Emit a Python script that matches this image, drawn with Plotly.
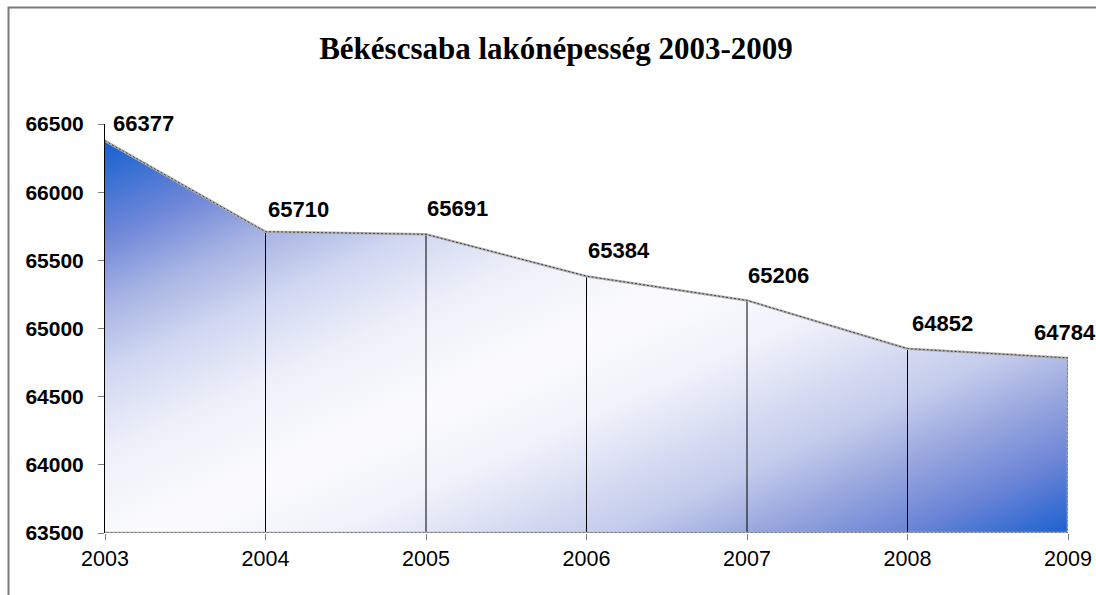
import base64
import plotly.graph_objects as go

# ---- data ----
years = [2003, 2004, 2005, 2006, 2007, 2008, 2009]
population = [66377, 65710, 65691, 65384, 65206, 64852, 64784]
y_ticks = [63500, 64000, 64500, 65000, 65500, 66000, 66500]
title_text = "Békéscsaba lakónépesség 2003-2009"

# ---- styling ----
W, H = 1096, 595
ML, MR, MT, MB = 105, 28, 124, 62
PW, PH = W - ML - MR, H - MT - MB
LABEL_SHIFT_X = [38, 33, 31, 32, 31, 35, -3]
LABEL_SHIFT_Y = [17, 22, 26, 26, 25, 25, 25]
GRAD_STOPS = [
    (0.00, "#1560d0"), (0.12, "#7088d8"), (0.20, "#a8b4e3"), (0.28, "#d0d7f1"),
    (0.38, "#eef0f9"), (0.50, "#fcfcfe"), (0.60, "#f0f2fa"), (0.70, "#d2d8f0"),
    (0.75, "#c4ccec"), (0.825, "#9aa8de"), (0.91, "#6a84d6"), (1.00, "#1a62d0"),
]
GRAD_DIR = (0.41, 0.912)

Y_MIN, Y_MAX = y_ticks[0], y_ticks[-1]
X_MIN, X_MAX = years[0], years[-1]

# gradient geometry (in plot-area pixels), over the bounding box of the filled area
top_frac = (Y_MAX - max(population)) / (Y_MAX - Y_MIN)
box_top, box_bot = top_frac * PH, PH
cx, cy = PW / 2, (box_top + box_bot) / 2
ux, uy = GRAD_DIR
half = abs(-cx * ux + (box_top - cy) * uy)
ax_, ay_ = cx - half * ux, cy - half * uy
bx_, by_ = cx + half * ux, cy + half * uy
stops = "".join(f'<stop offset="{o}" stop-color="{c}"/>' for o, c in GRAD_STOPS)
svg = (
    f'<svg xmlns="http://www.w3.org/2000/svg" width="{PW}" height="{PH}" '
    f'viewBox="0 0 {PW} {PH}" preserveAspectRatio="none"><defs>'
    f'<linearGradient id="g" gradientUnits="userSpaceOnUse" '
    f'x1="{ax_:.1f}" y1="{ay_:.1f}" x2="{bx_:.1f}" y2="{by_:.1f}">{stops}'
    '</linearGradient></defs>'
    f'<rect width="{PW}" height="{PH}" fill="url(#g)"/></svg>'
)
grad_src = "data:image/svg+xml;base64," + base64.b64encode(svg.encode()).decode()

fig = go.Figure()

# white mask above the curve (gradient image lies underneath the whole plot area)
fig.add_trace(go.Scatter(
    x=years + [X_MAX, X_MIN], y=population + [Y_MAX, Y_MAX],
    fill="toself", fillcolor="white", mode="lines",
    line=dict(width=0, color="white"), hoverinfo="skip", showlegend=False,
))

# drop lines
dx, dy = [], []
for yr, v in zip(years[1:-1], population[1:-1]):
    dx += [yr, yr, None]
    dy += [Y_MIN, v, None]
fig.add_trace(go.Scatter(
    x=dx, y=dy, mode="lines", line=dict(color="black", width=1),
    hoverinfo="skip", showlegend=False,
))

# area border (top curve, right edge, bottom edge)
bx = years + [X_MAX, X_MIN]
by = population + [Y_MIN, Y_MIN]
fig.add_trace(go.Scatter(
    x=bx, y=by, mode="lines", line=dict(color="#b0b0b0", width=2.5),
    hoverinfo="skip", showlegend=False, cliponaxis=False,
))
fig.add_trace(go.Scatter(
    x=bx, y=by, mode="lines", line=dict(color="#404040", width=1, dash="2px,2px"),
    hoverinfo="skip", showlegend=False, cliponaxis=False,
))

# data labels
for yr, v, sx, sy in zip(years, population, LABEL_SHIFT_X, LABEL_SHIFT_Y):
    fig.add_annotation(
        x=yr, y=v, text=str(v), showarrow=False,
        xshift=sx, yshift=sy,
        font=dict(family="Liberation Sans, Arial", size=22, color="black", weight="bold"),
    )

# chart-area frame: only the top and left edges are inside the window
fx0 = (8.5 - ML) / PW
fx1 = (W + 20 - ML) / PW
fy0 = -(40 + MB) / PH
fy1 = (H - MB - 7.5) / PH
frame_path = f"M {fx0},{fy0} L {fx0},{fy1} L {fx1},{fy1}"

fig.update_layout(
    width=W, height=H,
    margin=dict(l=ML, r=MR, t=MT, b=MB, autoexpand=False),
    paper_bgcolor="white", plot_bgcolor="rgba(0,0,0,0)",
    title=dict(
        text=title_text, xref="container", x=556 / W, xanchor="center",
        yref="container", y=1 - 48 / H, yanchor="middle",
        font=dict(family="Liberation Serif, Times New Roman", size=31, color="black", weight="bold"),
    ),
    images=[dict(
        source=grad_src, xref="paper", yref="paper", x=0, y=1,
        sizex=1, sizey=1, xanchor="left", yanchor="top",
        sizing="stretch", layer="below",
    )],
    shapes=[dict(
        type="path", xref="paper", yref="paper", path=frame_path,
        line=dict(color="#7a7a7a", width=2), layer="above",
    )],
    showlegend=False,
)

fig.update_xaxes(
    range=[X_MIN, X_MAX], tickvals=years, ticktext=[str(y) for y in years],
    showgrid=False, zeroline=False, showline=False, automargin=False,
    ticks="outside", ticklen=6, tickcolor="#808080", tickwidth=1,
    tickfont=dict(family="Liberation Sans, Arial", size=21.5, color="black"),
)
fig.update_yaxes(
    range=[Y_MIN, Y_MAX], tickvals=y_ticks, ticktext=[str(t) for t in y_ticks],
    showgrid=False, zeroline=False, showline=True, linecolor="black", linewidth=1,
    ticks="outside", ticklen=6, tickcolor="#808080", tickwidth=1, automargin=False,
    ticklabelstandoff=10,
    tickfont=dict(family="Liberation Sans, Arial", size=21, color="black", weight="bold"),
)

fig.write_html(
    "out.html",
    config={"displayModeBar": False, "responsive": False},
    post_script="document.body.style.margin='0';document.body.style.overflow='hidden';",
)
